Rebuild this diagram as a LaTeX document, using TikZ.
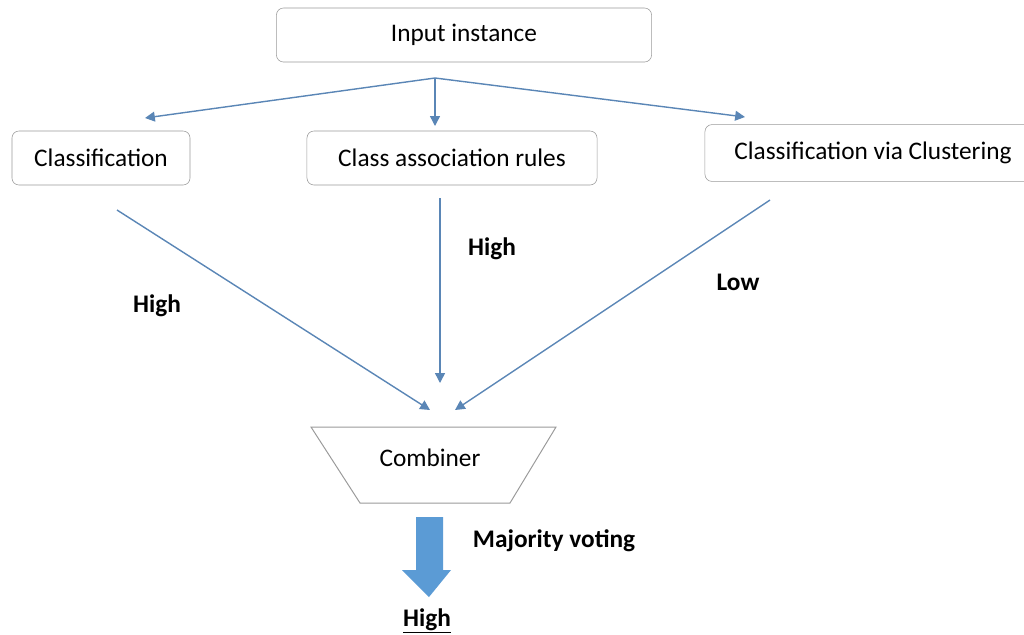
\documentclass[tikz,border=0pt]{standalone}
\usepackage{fontspec}
\setmainfont{Carlito}
\usetikzlibrary{arrows.meta}

\definecolor{linkblue}{HTML}{5A86B6}
\definecolor{boxgray}{HTML}{9A9A9A}
\definecolor{fatblue}{HTML}{5B9BD5}

\begin{document}
\begin{tikzpicture}[x=0.025cm,y=-0.025cm]

\tikzstyle{box}=[draw=boxgray,rounded corners=5pt,minimum height=1.35cm,font=\fontsize{18}{21}\selectfont,text=black]
\tikzstyle{link} = [draw=linkblue,line width=1pt,-{Triangle[width=7pt,length=7pt]}]
\tikzstyle{vote} = [font=\fontsize{18}{21}\selectfont\bfseries]

\useasboundingbox (0,0) rectangle (1024,634);

% boxes
\node[box,minimum width=9.375cm] (input) at (464,35) {Input instance};
\node[box,minimum width=4.45cm] (cls) at (101,158) {Classification};
\node[box,minimum width=7.25cm] (car) at (452,158) {Class association rules};
\node[box,minimum width=8.4cm,minimum height=1.42cm] (cvc) at (873,153) {Classification via Clustering};

% split and arrow ends
\coordinate (split) at (435,78);
\coordinate (clsin) at (145,118);
\coordinate (carin) at (435,126);
\coordinate (cvcin) at (745,117);

\foreach \dest in {clsin,carin,cvcin}
{
  \path[link] (split) -- (\dest);
}

% to the combiner
\coordinate (clsout) at (117,210);
\coordinate (carout) at (440,198);
\coordinate (cvcout) at (770,200);
\coordinate (clsend) at (430,410);
\coordinate (carend) at (440,383);
\coordinate (cvcend) at (455,410);

\foreach \source/\dest in {clsout/clsend, carout/carend, cvcout/cvcend}
{
  \path[link] (\source) -- (\dest);
}

\node[vote] (w1) at (157,306) {High};
\node[vote] (w2) at (492,249) {High};
\node[vote] (w3) at (738,282) {Low};

% combiner
\coordinate (ctl) at (311,427);
\coordinate (ctr) at (556,427);
\coordinate (cbr) at (510,503);
\coordinate (cbl) at (360,503);
\draw[boxgray,line width=0.7pt] (ctl) -- (ctr) -- (cbr) -- (cbl) -- cycle;
\node[font=\fontsize{18}{21}\selectfont] (comb) at (430,458) {Combiner};

% majority voting
\fill[fatblue] (416,517) -- (443,517) -- (443,570) -- (451,570) -- (429,597)
  -- (402,570) -- (416,570) -- cycle;
\node[vote,anchor=west] (mv) at (468,541) {Majority voting};
\node[vote] (res) at (427,621) {\underline{High}};

\end{tikzpicture}
\end{document}
